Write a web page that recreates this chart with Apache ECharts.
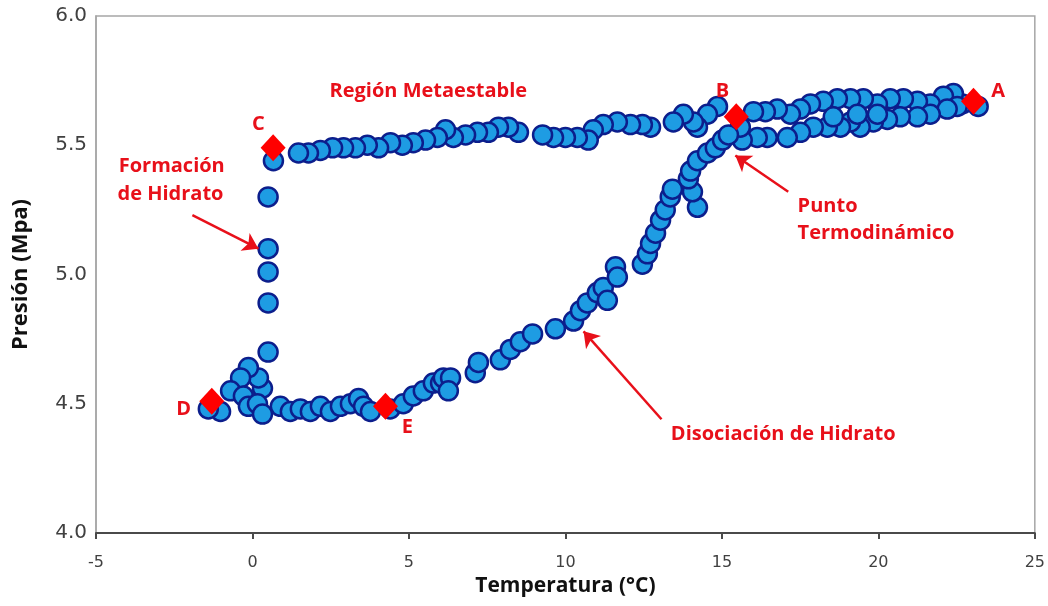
<!DOCTYPE html>
<html>
<head>
<meta charset="UTF-8">
<title>Presión vs Temperatura</title>
<script src="https://cdn.jsdelivr.net/npm/echarts@6/dist/echarts.min.js"></script>
<style>
  body { margin: 0; background: #fff; }
  #chart { width: 1048px; height: 606px; }
</style>
</head>
<body>
<div id="chart"></div>
<script>
// temperature (°C), pressure (MPa)
var enfriamiento = [ // A -> B, two strands
  [23.19,5.65],[22.68,5.66],[22.40,5.70],[22.08,5.69],[21.66,5.66],[21.25,5.67],[20.80,5.68],
  [20.38,5.68],[19.97,5.66],[19.52,5.68],[19.11,5.68],[18.69,5.68],[18.24,5.67],[17.83,5.66],
  [17.51,5.64],[17.19,5.62],[16.77,5.64],[16.39,5.63],[16.01,5.63],
  [22.52,5.65],[22.20,5.64],[21.66,5.62],[21.25,5.61],[20.70,5.61],[20.29,5.60],[19.84,5.59],
  [19.42,5.57],[19.11,5.59],[18.79,5.57],[18.37,5.57],[17.92,5.57],[17.51,5.55],[17.09,5.53],
  [16.45,5.53],[16.13,5.53],[15.65,5.52],[15.59,5.57],
  [19.97,5.62],[19.33,5.62],[18.56,5.61]
];
var metaestable = [ // B -> C
  [14.86,5.65],[14.54,5.62],[14.22,5.57],[14.09,5.59],[13.77,5.62],[13.45,5.59],[12.72,5.57],
  [12.46,5.58],[12.08,5.58],[11.66,5.59],[11.21,5.58],[10.89,5.56],[10.73,5.52],[10.38,5.53],
  [10.00,5.53],[9.62,5.53],[9.27,5.54],[8.50,5.55],[8.18,5.57],[7.86,5.57],[7.54,5.55],
  [7.19,5.55],[6.81,5.54],[6.42,5.53],[6.17,5.56],[5.91,5.53],[5.53,5.52],[5.14,5.51],
  [4.79,5.50],[4.41,5.51],[4.03,5.49],[3.67,5.50],[3.29,5.49],[2.91,5.49],[2.56,5.49],
  [2.17,5.48],[1.79,5.47],[1.47,5.47]
];
var formacion = [ // C -> D
  [0.67,5.44],[0.50,5.30],[0.50,5.10],[0.50,5.01],[0.50,4.89],[0.50,4.70],
  [0.32,4.56],[0.19,4.60],[-0.13,4.64],[-0.38,4.60],[-0.70,4.55],[-1.02,4.47],[-1.41,4.48],
  [-0.29,4.53],[-0.13,4.49],[0.16,4.50],[0.32,4.46]
];
var calentamiento = [ // D -> E
  [0.89,4.49],[1.21,4.47],[1.53,4.48],[1.85,4.47],[2.17,4.49],[2.49,4.47],[2.81,4.49],
  [3.13,4.50],[3.39,4.52],[3.55,4.49],[3.77,4.47],[4.40,4.48]
];
var disociacion = [ // E -> B
  [4.82,4.50],[5.14,4.53],[5.46,4.55],[5.78,4.58],[6.01,4.58],[6.10,4.60],[6.33,4.60],
  [6.26,4.55],[7.12,4.62],[7.22,4.66],[7.92,4.67],[8.24,4.71],[8.56,4.74],[8.95,4.77],
  [9.68,4.79],[10.26,4.82],[10.48,4.86],[10.70,4.89],[11.02,4.93],[11.21,4.95],[11.34,4.90],
  [11.60,5.03],[11.66,4.99],[12.46,5.04],[12.62,5.08],[12.72,5.12],[12.88,5.16],[13.04,5.21],
  [13.19,5.25],[13.35,5.30],[13.42,5.33],[14.22,5.26],[14.06,5.32],[13.93,5.37],[14.00,5.40],
  [14.22,5.44],[14.54,5.47],[14.79,5.49],[15.02,5.52],[15.21,5.54]
];

var puntosNombre = ['A', 'B', 'C', 'D', 'E'];
var puntosValor = [[23.04,5.67],[15.46,5.61],[0.66,5.49],[-1.30,4.51],[4.25,4.49]];

var xTicks = [-5, 0, 5, 10, 15, 20, 25];
var yTicks = [4.0, 4.5, 5.0, 5.5, 6.0];

// annotation texts, where they sit (data units) and how they align
var notas = [
  ['Región Metaestable', 5.62, 5.71, 'center'],
  ['C', 0.19, 5.58, 'center'],
  ['Formación', -2.58, 5.42, 'center'],
  ['de Hidrato', -2.62, 5.31, 'center'],
  ['B', 15.02, 5.71, 'center'],
  ['A', 23.83, 5.71, 'center'],
  ['Punto', 17.42, 5.265, 'left'],
  ['Termodinámico', 17.42, 5.16, 'left'],
  ['D', -2.20, 4.48, 'center'],
  ['E', 4.95, 4.41, 'center'],
  ['Disociación de Hidrato', 16.96, 4.38, 'center']
];
var flechas = [
  [[-1.92, 5.23], [0.19, 5.10]],
  [[17.12, 5.32], [15.43, 5.46]],
  [[13.07, 4.44], [10.58, 4.78]]
];

var rojo = '#E8101A';
var chart = echarts.init(document.getElementById('chart'));

var mediciones = enfriamiento.concat(metaestable, formacion, calentamiento, disociacion);

var option = {
  animation: false,
  grid: {
    left: 96, right: 13, top: 16, bottom: 73,
    show: true, borderColor: '#A6A6A6', borderWidth: 1.5
  },
  xAxis: {
    type: 'value', min: xTicks[0], max: xTicks[xTicks.length - 1], interval: 5,
    name: 'Temperatura (°C)', nameLocation: 'middle', nameGap: 43,
    nameTextStyle: { fontFamily: 'Open Sans', fontWeight: 'bold', fontSize: 21, color: '#111' },
    axisLine: { onZero: false, lineStyle: { color: '#4A4A4A', width: 2 } },
    axisTick: { show: true, length: 6, lineStyle: { color: '#4A4A4A', width: 2 } },
    axisLabel: { fontFamily: 'DejaVu Sans', fontSize: 16, color: '#404040', margin: 22 },
    splitLine: { show: false }
  },
  yAxis: {
    type: 'value', min: yTicks[0], max: yTicks[yTicks.length - 1], interval: 0.5,
    name: 'Presión (Mpa)', nameLocation: 'middle', nameGap: 64, nameRotate: 90,
    nameTextStyle: { fontFamily: 'Open Sans', fontWeight: 'bold', fontSize: 22, color: '#111' },
    axisLine: { show: true, onZero: false, lineStyle: { color: '#A6A6A6', width: 1.5 } },
    axisTick: { show: false },
    axisLabel: {
      fontFamily: 'DejaVu Sans', fontSize: 20, color: '#404040', margin: 9,
      formatter: function (v) { return v.toFixed(1); }
    },
    splitLine: { show: false }
  },
  series: [
    {
      name: 'Mediciones', type: 'scatter', data: mediciones,
      symbolSize: 19,
      itemStyle: { color: '#1E9CE3', borderColor: '#0C1E8C', borderWidth: 2.5, opacity: 1 }
    },
    {
      name: 'Puntos', type: 'scatter', symbol: 'diamond', symbolSize: [25, 27],
      data: puntosValor.map(function (p, i) { return { name: puntosNombre[i], value: p }; }),
      itemStyle: { color: '#FF0000', opacity: 1 },
      z: 3
    },
    {
      name: 'Notas', type: 'scatter', symbolSize: 0, silent: true, z: 4,
      itemStyle: { opacity: 1 },
      data: notas.map(function (n) {
        return { name: n[0], value: [n[1], n[2]], label: { align: n[3] } };
      }),
      label: {
        show: true, position: 'inside', formatter: '{b}',
        fontFamily: 'Open Sans', fontWeight: 'bold', fontSize: 20,
        color: rojo, textBorderWidth: 0, opacity: 1
      },
      markLine: {
        silent: true, animation: false,
        symbol: ['none', 'arrow'], symbolSize: 15,
        label: { show: false },
        lineStyle: { color: rojo, width: 2.5, type: 'solid', opacity: 1 },
        data: flechas.map(function (f) { return [{ coord: f[0] }, { coord: f[1] }]; })
      }
    }
  ]
};

chart.setOption(option);
window.onresize = chart.resize;
</script>
</body>
</html>
